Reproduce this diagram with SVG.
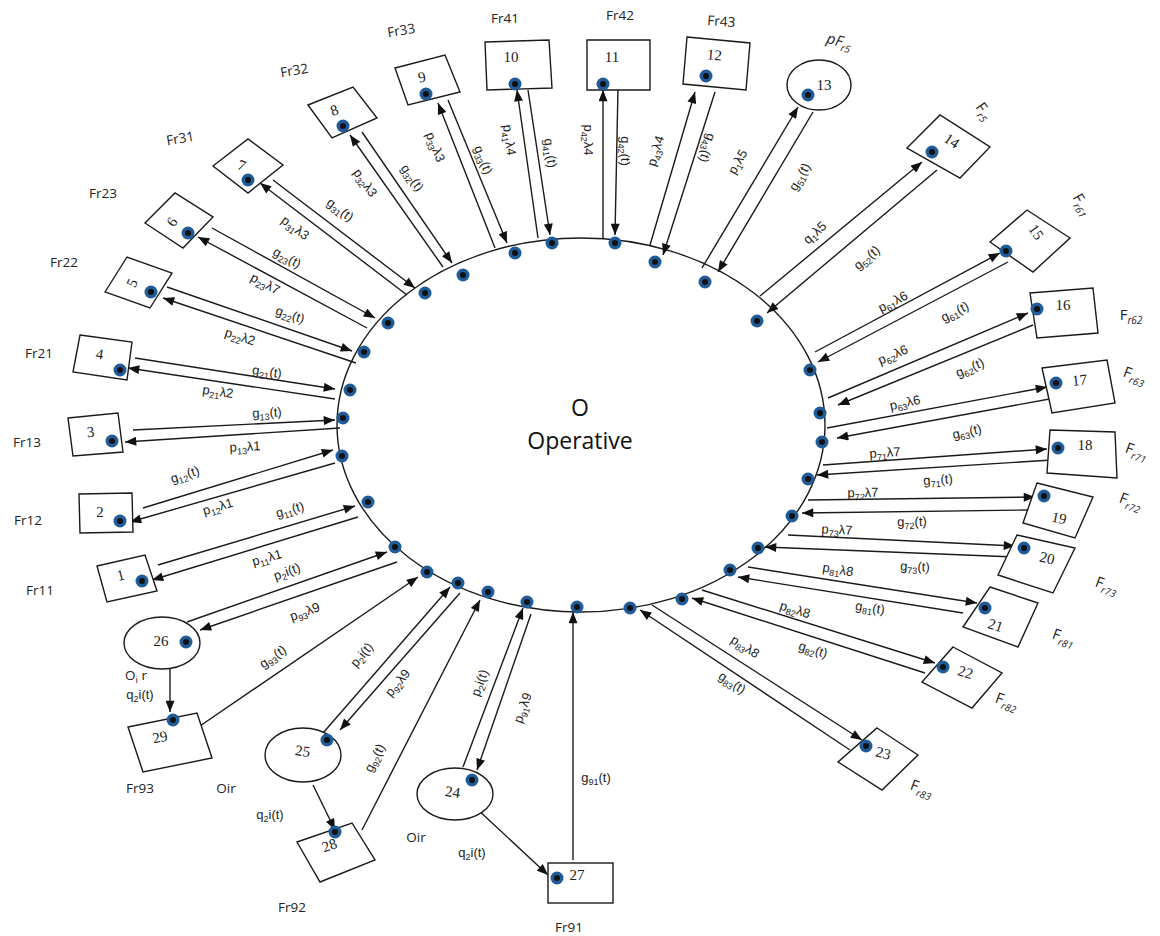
<svg xmlns="http://www.w3.org/2000/svg" width="1160" height="936" viewBox="0 0 1160 936">
<style>
.bg{fill:#fff}
.shape{fill:#fff;stroke:#1a1a1a;stroke-width:1.4}
.conn{fill:none;stroke:#1a1a1a;stroke-width:1.4}
.arr{marker-end:url(#ah)}
.num{font-family:"Liberation Serif","Times New Roman",serif;font-size:15px;fill:#222;text-anchor:middle}
.l{font-family:"Liberation Sans",Arial,sans-serif;font-size:13px;fill:#222;text-anchor:middle}
.s{font-size:9px}
.fr{font-family:"Open Sans","Liberation Sans",sans-serif;font-size:13.5px;fill:#222;text-anchor:middle}
.fl{font-family:"Open Sans","Liberation Sans",sans-serif;font-size:15px;fill:#222;text-anchor:middle}
.fs{font-size:10px;font-style:italic}
.ctr{font-family:"Open Sans","Liberation Sans",sans-serif;font-size:23px;fill:#111;text-anchor:middle}
</style>
<defs>
<marker id="ah" viewBox="0 0 10 8" refX="10" refY="4" markerWidth="12" markerHeight="9" markerUnits="userSpaceOnUse" orient="auto">
<path d="M0,0 L10,4 L0,8 z" fill="#111"/>
</marker>
<g id="dot"><circle r="6.5" fill="#1f5c99"/><circle r="3" fill="#111"/></g>
</defs>
<rect class="bg" width="1160" height="936"/>

<g id="operative">
<ellipse class="shape" cx="581" cy="425" rx="244" ry="187" fill="none"/>
<text class="ctr" x="580" y="416">O</text>
<text class="ctr" x="580" y="449">Operative</text>
<use href="#dot" x="395" y="547"/><use href="#dot" x="368" y="502"/><use href="#dot" x="342" y="456"/>
<use href="#dot" x="343" y="418"/><use href="#dot" x="350" y="390"/><use href="#dot" x="364" y="352"/>
<use href="#dot" x="388" y="323"/><use href="#dot" x="425" y="293"/><use href="#dot" x="463" y="275"/>
<use href="#dot" x="515" y="253"/><use href="#dot" x="552" y="243"/><use href="#dot" x="615" y="243"/>
<use href="#dot" x="655" y="262"/><use href="#dot" x="705" y="282"/><use href="#dot" x="757" y="321"/>
<use href="#dot" x="810" y="370"/><use href="#dot" x="820" y="413"/><use href="#dot" x="822" y="442"/>
<use href="#dot" x="808" y="479"/><use href="#dot" x="792" y="516"/><use href="#dot" x="758" y="548"/>
<use href="#dot" x="730" y="570"/><use href="#dot" x="682" y="599"/><use href="#dot" x="630" y="608"/>
<use href="#dot" x="577" y="607"/><use href="#dot" x="527" y="602"/><use href="#dot" x="488" y="592"/>
<use href="#dot" x="458" y="583"/><use href="#dot" x="427" y="572"/>
</g>

<g id="connectors">
<path class="conn arr" d="M158,565 L355,506"/><path class="conn arr" d="M358,517 L152,580"/>
<path class="conn arr" d="M143,508 L333,450"/><path class="conn arr" d="M335,463 L130,522"/>
<path class="conn arr" d="M133,430 L335,420"/><path class="conn arr" d="M340,428 L125,442"/>
<path class="conn arr" d="M135,358 L335,389"/><path class="conn arr" d="M335,399 L128,368"/>
<path class="conn arr" d="M167,287 L352,351"/><path class="conn arr" d="M356,363 L163,298"/>
<path class="conn arr" d="M212,228 L375,318"/><path class="conn arr" d="M367,328 L198,237"/>
<path class="conn arr" d="M273,180 L415,288"/><path class="conn arr" d="M407,295 L260,183"/>
<path class="conn arr" d="M362,132 L452,263"/><path class="conn arr" d="M443,267 L350,135"/>
<path class="conn arr" d="M448,100 L507,243"/><path class="conn arr" d="M495,248 L438,103"/>
<path class="conn arr" d="M538,238 L517,90"/><path class="conn arr" d="M528,90 L550,235"/>
<path class="conn arr" d="M603,238 L603,90"/><path class="conn arr" d="M618,88 L615,235"/>
<path class="conn arr" d="M650,245 L695,92"/><path class="conn arr" d="M715,92 L663,255"/>
<path class="conn arr" d="M702,268 L798,107"/><path class="conn arr" d="M813,112 L718,272"/>
<path class="conn arr" d="M760,296 L922,162"/><path class="conn arr" d="M937,170 L767,313"/>
<path class="conn arr" d="M815,352 L1000,253"/><path class="conn arr" d="M1008,262 L818,362"/>
<path class="conn arr" d="M828,398 L1028,313"/><path class="conn arr" d="M1033,325 L838,405"/>
<path class="conn arr" d="M827,428 L1047,387"/><path class="conn arr" d="M1055,398 L837,438"/>
<path class="conn arr" d="M823,465 L1047,449"/><path class="conn arr" d="M1052,460 L817,475"/>
<path class="conn arr" d="M808,500 L1035,497"/><path class="conn arr" d="M1028,510 L802,513"/>
<path class="conn arr" d="M788,535 L1015,546"/><path class="conn arr" d="M1015,557 L765,547"/>
<path class="conn arr" d="M748,567 L977,603"/><path class="conn arr" d="M963,613 L738,577"/>
<path class="conn arr" d="M702,590 L935,663"/><path class="conn arr" d="M925,673 L692,598"/>
<path class="conn arr" d="M652,605 L862,740"/><path class="conn arr" d="M850,750 L640,610"/>
<path class="conn arr" d="M463,767 L523,608"/><path class="conn arr" d="M531,614 L477,770"/>
<path class="conn arr" d="M323,733 L450,587"/><path class="conn arr" d="M460,593 L340,730"/>
<path class="conn arr" d="M187,622 L387,552"/><path class="conn arr" d="M397,562 L200,630"/>
<path class="conn arr" d="M197,728 L418,577"/>
<path class="conn arr" d="M362,830 L480,600"/>
<path class="conn arr" d="M573,860 L573,612"/>
<path class="conn arr" d="M170,665 L170,712"/>
<path class="conn arr" d="M313,785 L335,830"/>
<path class="conn arr" d="M475,807 L548,875"/>
</g>

<g id="connector-labels">
<text class="l" y="4" transform="translate(290,510) rotate(-16)">g<tspan class="s" dy="3">11</tspan><tspan dy="-3">(t)</tspan></text>
<text class="l" y="4" transform="translate(267,558) rotate(-16)">p<tspan class="s" dy="3">11</tspan><tspan dy="-3">λ1</tspan></text>
<text class="l" y="4" transform="translate(185,475) rotate(-18)">g<tspan class="s" dy="3">12</tspan><tspan dy="-3">(t)</tspan></text>
<text class="l" y="4" transform="translate(218,507) rotate(-17)">p<tspan class="s" dy="3">12</tspan><tspan dy="-3">λ1</tspan></text>
<text class="l" y="4" transform="translate(267,413) rotate(-3)">g<tspan class="s" dy="3">13</tspan><tspan dy="-3">(t)</tspan></text>
<text class="l" y="4" transform="translate(245,447) rotate(-3)">p<tspan class="s" dy="3">13</tspan><tspan dy="-3">λ1</tspan></text>
<text class="l" y="4" transform="translate(267,372) rotate(8)">g<tspan class="s" dy="3">21</tspan><tspan dy="-3">(t)</tspan></text>
<text class="l" y="4" transform="translate(218,392) rotate(8)">p<tspan class="s" dy="3">21</tspan><tspan dy="-3">λ2</tspan></text>
<text class="l" y="4" transform="translate(290,315) rotate(18)">g<tspan class="s" dy="3">22</tspan><tspan dy="-3">(t)</tspan></text>
<text class="l" y="4" transform="translate(240,337) rotate(18)">p<tspan class="s" dy="3">22</tspan><tspan dy="-3">λ2</tspan></text>
<text class="l" y="4" transform="translate(287,258) rotate(28)">g<tspan class="s" dy="3">23</tspan><tspan dy="-3">(t)</tspan></text>
<text class="l" y="4" transform="translate(265,284) rotate(28)">p<tspan class="s" dy="3">23</tspan><tspan dy="-3">λ7</tspan></text>
<text class="l" y="4" transform="translate(340,210) rotate(37)">g<tspan class="s" dy="3">31</tspan><tspan dy="-3">(t)</tspan></text>
<text class="l" y="4" transform="translate(295,228) rotate(37)">p<tspan class="s" dy="3">31</tspan><tspan dy="-3">λ3</tspan></text>
<text class="l" y="4" transform="translate(365,183) rotate(55)">p<tspan class="s" dy="3">32</tspan><tspan dy="-3">λ3</tspan></text>
<text class="l" y="4" transform="translate(412,178) rotate(55)">g<tspan class="s" dy="3">32</tspan><tspan dy="-3">(t)</tspan></text>
<text class="l" y="4" transform="translate(435,147) rotate(68)">p<tspan class="s" dy="3">33</tspan><tspan dy="-3">λ3</tspan></text>
<text class="l" y="4" transform="translate(483,160) rotate(68)">g<tspan class="s" dy="3">33</tspan><tspan dy="-3">(t)</tspan></text>
<text class="l" y="4" transform="translate(509,140) rotate(82)">p<tspan class="s" dy="3">41</tspan><tspan dy="-3">λ4</tspan></text>
<text class="l" y="4" transform="translate(550,153) rotate(82)">g<tspan class="s" dy="3">41</tspan><tspan dy="-3">(t)</tspan></text>
<text class="l" y="4" transform="translate(588,140) rotate(90)">p<tspan class="s" dy="3">42</tspan><tspan dy="-3">λ4</tspan></text>
<text class="l" y="4" transform="translate(625,151) rotate(90)">g<tspan class="s" dy="3">42</tspan><tspan dy="-3">(t)</tspan></text>
<text class="l" y="4" transform="translate(656,151) rotate(-73)">p<tspan class="s" dy="3">43</tspan><tspan dy="-3">λ4</tspan></text>
<text class="l" y="4" transform="translate(707,148) rotate(107)">g<tspan class="s" dy="3">43</tspan><tspan dy="-3">(t)</tspan></text>
<text class="l" y="4" transform="translate(738,162) rotate(-60)">p<tspan class="s" dy="3">1</tspan><tspan dy="-3">λ5</tspan></text>
<text class="l" y="4" transform="translate(800,177) rotate(-60)">g<tspan class="s" dy="3">51</tspan><tspan dy="-3">(t)</tspan></text>
<text class="l" y="4" transform="translate(815,233) rotate(-42)">q<tspan class="s" dy="3">1</tspan><tspan dy="-3">λ5</tspan></text>
<text class="l" y="4" transform="translate(867,258) rotate(-40)">g<tspan class="s" dy="3">52</tspan><tspan dy="-3">(t)</tspan></text>
<text class="l" y="4" transform="translate(893,302) rotate(-27)">p<tspan class="s" dy="3">61</tspan><tspan dy="-3">λ6</tspan></text>
<text class="l" y="4" transform="translate(955,312) rotate(-27)">g<tspan class="s" dy="3">61</tspan><tspan dy="-3">(t)</tspan></text>
<text class="l" y="4" transform="translate(893,355) rotate(-23)">p<tspan class="s" dy="3">62</tspan><tspan dy="-3">λ6</tspan></text>
<text class="l" y="4" transform="translate(970,368) rotate(-23)">g<tspan class="s" dy="3">62</tspan><tspan dy="-3">(t)</tspan></text>
<text class="l" y="4" transform="translate(905,403) rotate(-12)">p<tspan class="s" dy="3">63</tspan><tspan dy="-3">λ6</tspan></text>
<text class="l" y="4" transform="translate(967,432) rotate(-12)">g<tspan class="s" dy="3">63</tspan><tspan dy="-3">(t)</tspan></text>
<text class="l" y="4" transform="translate(885,453) rotate(-4)">p<tspan class="s" dy="3">71</tspan><tspan dy="-3">λ7</tspan></text>
<text class="l" y="4" transform="translate(938,480) rotate(-4)">g<tspan class="s" dy="3">71</tspan><tspan dy="-3">(t)</tspan></text>
<text class="l" y="4" transform="translate(863,493) rotate(-1)">p<tspan class="s" dy="3">72</tspan><tspan dy="-3">λ7</tspan></text>
<text class="l" y="4" transform="translate(912,522) rotate(-1)">g<tspan class="s" dy="3">72</tspan><tspan dy="-3">(t)</tspan></text>
<text class="l" y="4" transform="translate(837,530) rotate(3)">p<tspan class="s" dy="3">73</tspan><tspan dy="-3">λ7</tspan></text>
<text class="l" y="4" transform="translate(915,567) rotate(3)">g<tspan class="s" dy="3">73</tspan><tspan dy="-3">(t)</tspan></text>
<text class="l" y="4" transform="translate(838,570) rotate(9)">p<tspan class="s" dy="3">81</tspan><tspan dy="-3">λ8</tspan></text>
<text class="l" y="4" transform="translate(870,608) rotate(9)">g<tspan class="s" dy="3">81</tspan><tspan dy="-3">(t)</tspan></text>
<text class="l" y="4" transform="translate(795,610) rotate(17)">p<tspan class="s" dy="3">82</tspan><tspan dy="-3">λ8</tspan></text>
<text class="l" y="4" transform="translate(813,650) rotate(17)">g<tspan class="s" dy="3">82</tspan><tspan dy="-3">(t)</tspan></text>
<text class="l" y="4" transform="translate(745,647) rotate(33)">p<tspan class="s" dy="3">83</tspan><tspan dy="-3">λ8</tspan></text>
<text class="l" y="4" transform="translate(732,683) rotate(33)">g<tspan class="s" dy="3">83</tspan><tspan dy="-3">(t)</tspan></text>
<text class="l" y="4" transform="translate(480,683) rotate(-70)">p<tspan class="s" dy="3">2</tspan><tspan dy="-3">i(t)</tspan></text>
<text class="l" y="4" transform="translate(523,708) rotate(-70)">p<tspan class="s" dy="3">91</tspan><tspan dy="-3">λ9</tspan></text>
<text class="l" y="4" transform="translate(362,655) rotate(-50)">p<tspan class="s" dy="3">2</tspan><tspan dy="-3">i(t)</tspan></text>
<text class="l" y="4" transform="translate(398,683) rotate(-50)">p<tspan class="s" dy="3">92</tspan><tspan dy="-3">λ9</tspan></text>
<text class="l" y="4" transform="translate(287,572) rotate(-20)">p<tspan class="s" dy="3">2</tspan><tspan dy="-3">i(t)</tspan></text>
<text class="l" y="4" transform="translate(305,612) rotate(-20)">p<tspan class="s" dy="3">93</tspan><tspan dy="-3">λ9</tspan></text>
<text class="l" y="4" transform="translate(273,657) rotate(-35)">g<tspan class="s" dy="3">93</tspan><tspan dy="-3">(t)</tspan></text>
<text class="l" y="4" transform="translate(375,758) rotate(-63)">g<tspan class="s" dy="3">92</tspan><tspan dy="-3">(t)</tspan></text>
<text class="l" x="596" y="782">g<tspan class="s" dy="3">91</tspan><tspan dy="-3">(t)</tspan></text>
<text class="l" x="140" y="699">q<tspan class="s" dy="3">2</tspan><tspan dy="-3">i(t)</tspan></text>
<text class="l" x="270" y="819">q<tspan class="s" dy="3">2</tspan><tspan dy="-3">i(t)</tspan></text>
<text class="l" x="472" y="857">q<tspan class="s" dy="3">2</tspan><tspan dy="-3">i(t)</tspan></text>
</g>

<g id="n1"><polygon class="shape" points="97,566 145,555 157,591 107,602"/><text class="num" transform="translate(122,580) rotate(-14)">1</text><use href="#dot" x="142" y="581"/><text class="fr" x="40" y="595">Fr11</text></g>
<g id="n2"><polygon class="shape" points="79,494 132,493 133,532 80,533"/><text class="num" x="100" y="517">2</text><use href="#dot" x="120" y="521"/><text class="fr" x="28" y="525">Fr12</text></g>
<g id="n3"><polygon class="shape" points="68,418 118,413 123,452 73,456"/><text class="num" transform="translate(91,437) rotate(-5)">3</text><use href="#dot" x="112" y="441"/><text class="fr" x="27" y="447">Fr13</text></g>
<g id="n4"><polygon class="shape" points="80,335 132,342 127,380 73,372"/><text class="num" transform="translate(99,359) rotate(8)">4</text><use href="#dot" x="120" y="370"/><text class="fr" x="39" y="358">Fr21</text></g>
<g id="n5"><polygon class="shape" points="105,292 127,257 172,273 150,308"/><text class="num" transform="translate(132,283) rotate(-65)" dy="5">5</text><use href="#dot" x="151" y="292"/><text class="fr" x="64" y="267">Fr22</text></g>
<g id="n6"><polygon class="shape" points="145,223 175,193 213,217 183,248"/><text class="num" transform="translate(172,222) rotate(-58)" dy="5">6</text><use href="#dot" x="188" y="233"/><text class="fr" x="103" y="198">Fr23</text></g>
<g id="n7"><polygon class="shape" points="213,166 248,139 283,165 248,193"/><text class="num" transform="translate(240,170) rotate(20)">7</text><use href="#dot" x="248" y="180"/><text class="fr" transform="translate(181,143) rotate(-10)">Fr31</text></g>
<g id="n8"><polygon class="shape" points="308,105 353,87 377,118 332,138"/><text class="num" transform="translate(336,115) rotate(-20)">8</text><use href="#dot" x="343" y="126"/><text class="fr" transform="translate(295,75) rotate(-10)">Fr32</text></g>
<g id="n9"><polygon class="shape" points="395,68 445,55 460,92 408,105"/><text class="num" transform="translate(423,82) rotate(-12)">9</text><use href="#dot" x="426" y="94"/><text class="fr" transform="translate(402,35) rotate(-10)">Fr33</text></g>
<g id="n10"><polygon class="shape" points="485,42 549,40 552,88 487,90"/><text class="num" x="511" y="62">10</text><use href="#dot" x="515" y="84"/><text class="fr" x="505" y="23">Fr41</text></g>
<g id="n11"><polygon class="shape" points="587,40 650,40 650,90 587,90"/><text class="num" x="612" y="62">11</text><use href="#dot" x="603" y="84"/><text class="fr" x="620" y="20">Fr42</text></g>
<g id="n12"><polygon class="shape" points="687,37 750,43 746,90 683,84"/><text class="num" transform="translate(714,60) rotate(5)">12</text><use href="#dot" x="706" y="76"/><text class="fr" transform="translate(721,26) rotate(4)">Fr43</text></g>
<g id="n13"><ellipse class="shape" cx="819" cy="85" rx="32" ry="25"/><text class="num" x="824" y="90">13</text><use href="#dot" x="808" y="95"/><text class="fl" transform="translate(838,46) rotate(15)" font-style="italic">pF<tspan class="fs" dy="4">r5</tspan></text></g>
<g id="n14"><polygon class="shape" points="907,148 940,115 990,147 960,178"/><text class="num" transform="translate(949,145) rotate(33)">14</text><use href="#dot" x="932" y="152"/><text class="fl" transform="translate(980,114) rotate(55)">F<tspan class="fs" dy="4">r5</tspan></text></g>
<g id="n15"><polygon class="shape" points="990,242 1027,210 1070,238 1033,272"/><text class="num" transform="translate(1032,235) rotate(55)">15</text><use href="#dot" x="1006" y="251"/><text class="fl" transform="translate(1078,207) rotate(60)">F<tspan class="fs" dy="4">r61</tspan></text></g>
<g id="n16"><polygon class="shape" points="1030,293 1093,288 1098,333 1037,338"/><text class="num" x="1063" y="310">16</text><use href="#dot" x="1037" y="309"/><text class="fl" x="1131" y="320">F<tspan class="fs" dy="4">r62</tspan></text></g>
<g id="n17"><polygon class="shape" points="1042,368 1107,360 1115,403 1052,413"/><text class="num" transform="translate(1080,385) rotate(-5)">17</text><use href="#dot" x="1056" y="383"/><text class="fl" transform="translate(1133,380) rotate(20)">F<tspan class="fs" dy="4">r63</tspan></text></g>
<g id="n18"><polygon class="shape" points="1050,430 1115,432 1117,478 1047,473"/><text class="num" x="1085" y="450">18</text><use href="#dot" x="1058" y="448"/><text class="fl" transform="translate(1135,456) rotate(20)">F<tspan class="fs" dy="4">r71</tspan></text></g>
<g id="n19"><polygon class="shape" points="1037,483 1093,497 1075,538 1023,523"/><text class="num" transform="translate(1058,523) rotate(12)">19</text><use href="#dot" x="1044" y="496"/><text class="fl" transform="translate(1129,506) rotate(20)">F<tspan class="fs" dy="4">r72</tspan></text></g>
<g id="n20"><polygon class="shape" points="1017,535 1075,548 1053,593 998,575"/><text class="num" transform="translate(1046,563) rotate(13)">20</text><use href="#dot" x="1024" y="548"/><text class="fl" transform="translate(1105,590) rotate(20)">F<tspan class="fs" dy="4">r73</tspan></text></g>
<g id="n21"><polygon class="shape" points="990,587 1038,603 1018,647 963,627"/><text class="num" transform="translate(994,630) rotate(18)">21</text><use href="#dot" x="985" y="608"/><text class="fl" transform="translate(1062,642) rotate(20)">F<tspan class="fs" dy="4">r81</tspan></text></g>
<g id="n22"><polygon class="shape" points="953,647 1002,673 972,708 922,682"/><text class="num" transform="translate(964,677) rotate(18)">22</text><use href="#dot" x="943" y="667"/><text class="fl" transform="translate(1005,706) rotate(20)">F<tspan class="fs" dy="4">r82</tspan></text></g>
<g id="n23"><polygon class="shape" points="877,728 918,755 882,790 838,762"/><text class="num" transform="translate(882,758) rotate(15)">23</text><use href="#dot" x="866" y="746"/><text class="fl" transform="translate(920,793) rotate(20)">F<tspan class="fs" dy="4">r83</tspan></text></g>
<g id="n24"><ellipse class="shape" cx="455" cy="794" rx="38" ry="26"/><text class="num" transform="translate(452,797) rotate(8)">24</text><use href="#dot" x="472" y="780"/><text class="fr" x="416" y="842">Oir</text></g>
<g id="n25"><ellipse class="shape" cx="303" cy="755" rx="38" ry="27"/><text class="num" transform="translate(302,756) rotate(8)">25</text><use href="#dot" x="327" y="740"/><text class="fr" x="226" y="793">Oir</text></g>
<g id="n26"><ellipse class="shape" cx="162" cy="643" rx="38" ry="26"/><text class="num" x="161" y="646">26</text><use href="#dot" x="186" y="642"/><text class="fr" x="136" y="680">O<tspan class="s" dy="3">i</tspan><tspan dy="-3"> r</tspan></text></g>
<g id="n27"><rect class="shape" x="548" y="863" width="65" height="40"/><text class="num" x="577" y="880">27</text><use href="#dot" x="557" y="878"/><text class="fr" x="569" y="932">Fr91</text></g>
<g id="n28"><polygon class="shape" points="297,842 352,823 375,860 320,882"/><text class="num" transform="translate(331,850) rotate(-19)">28</text><use href="#dot" x="335" y="832"/><text class="fr" x="292" y="912">Fr92</text></g>
<g id="n29"><polygon class="shape" points="128,727 197,713 212,758 143,772"/><text class="num" transform="translate(161,742) rotate(-12)">29</text><use href="#dot" x="173" y="720"/><text class="fr" x="140" y="793">Fr93</text></g>
</svg>
